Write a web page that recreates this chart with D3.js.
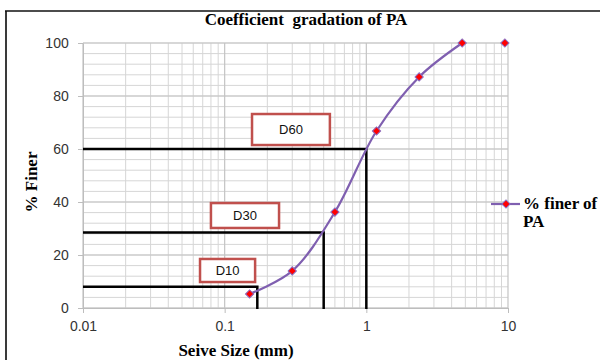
<!DOCTYPE html>
<html>
<head>
<meta charset="utf-8">
<script src="https://cdn.jsdelivr.net/npm/d3@7"></script>
<style>
  body { margin: 0; background: #fff; }
  svg { display: block; }
</style>
</head>
<body>
<div id="chart"></div>
<script>
// sieve data
const sieveSizes = [0.15, 0.3, 0.6, 1.18, 2.36, 4.75, 9.5];
const pctFiner = [5.3, 14, 36.2, 66.8, 87.2, 100, 100];

// D10 / D30 / D60 guide lines
const dLabels = ["D10", "D30", "D60"];
const dPercent = [8, 28.5, 60];
const dSizes = [0.17, 0.5, 1.0];
// label boxes in data units: left mm, right mm, top %, bottom %
const boxLeft = [0.067, 0.080, 0.156];
const boxRight = [0.164, 0.242, 0.553];
const boxTop = [18.5, 39.6, 73.2];
const boxBottom = [9.8, 30.2, 61.5];

const xTicks = [0.01, 0.1, 1, 10];
const yTicks = [0, 20, 40, 60, 80, 100];

const W = 600, H = 360;
const margin = {top: 43, right: 92, bottom: 52, left: 83},
      width = W - margin.left - margin.right,
      height = H - margin.top - margin.bottom;

const root = d3.select("#chart").append("svg")
  .attr("width", W).attr("height", H);

// outer frame (left + top edges visible)
root.append("line").attr("x1", 6).attr("x2", 6).attr("y1", 11).attr("y2", H)
  .attr("stroke", "#3a3a3a").attr("stroke-width", 2);
root.append("line").attr("x1", 5).attr("x2", W).attr("y1", 11).attr("y2", 11)
  .attr("stroke", "#111").attr("stroke-width", 1.5);

const svg = root.append("g")
  .attr("transform", `translate(${margin.left},${margin.top})`);

const x = d3.scaleLog().domain([0.01, 10]).range([0, width]);
const y = d3.scaleLinear().domain([0, 100]).range([height, 0]);

// minor grid
const minorX = [];
[0.01, 0.1, 1].forEach(d => { for (let k = 2; k <= 9; k++) minorX.push(d * k); });
svg.append("g").selectAll("line").data(minorX).enter().append("line")
  .attr("x1", d => x(d)).attr("x2", d => x(d)).attr("y1", 0).attr("y2", height)
  .attr("stroke", "#d6d6d6").attr("stroke-width", 1);
svg.append("g").selectAll("line").data(d3.range(0, 101, 4)).enter().append("line")
  .attr("x1", 0).attr("x2", width).attr("y1", d => y(d)).attr("y2", d => y(d))
  .attr("stroke", "#d6d6d6").attr("stroke-width", 1);

// major grid
svg.append("g").selectAll("line").data(xTicks).enter().append("line")
  .attr("x1", d => x(d)).attr("x2", d => x(d)).attr("y1", 0).attr("y2", height)
  .attr("stroke", "#c4c4c4").attr("stroke-width", 1.2);
svg.append("g").selectAll("line").data(yTicks).enter().append("line")
  .attr("x1", 0).attr("x2", width).attr("y1", d => y(d)).attr("y2", d => y(d))
  .attr("stroke", "#c4c4c4").attr("stroke-width", 1.2);

// axes
const xAxis = svg.append("g")
  .attr("transform", `translate(0,${height})`)
  .call(d3.axisBottom(x).tickValues(xTicks).tickFormat(d => String(d)).tickSize(5).tickSizeOuter(0));
const yAxis = svg.append("g")
  .call(d3.axisLeft(y).tickValues(yTicks).tickSize(5).tickSizeOuter(0));
[xAxis, yAxis].forEach(a => {
  a.select(".domain").attr("stroke", "#bdbdbd");
  a.selectAll(".tick line").attr("stroke", "#bdbdbd");
  a.selectAll("text").attr("fill", "#333")
    .style("font-family", "'Liberation Sans', Arial, sans-serif").style("font-size", "14px");
});
xAxis.selectAll("text").attr("dy", "1.1em");
yAxis.selectAll("text").attr("dx", "-0.45em");

// D lines
const dData = dLabels.map((l, i) => ({
  label: l, p: dPercent[i], s: dSizes[i],
  bl: boxLeft[i], br: boxRight[i], bt: boxTop[i], bb: boxBottom[i]
}));
const dPath = d3.line().x(d => d[0]).y(d => d[1]);
svg.append("g").selectAll("path").data(dData).enter().append("path")
  .attr("d", d => dPath([[0, y(d.p)], [x(d.s), y(d.p)], [x(d.s), height + 1]]))
  .attr("fill", "none").attr("stroke", "#000").attr("stroke-width", 2.5);

// D boxes
const bx = svg.append("g").selectAll("g").data(dData).enter().append("g");
bx.append("rect")
  .attr("x", d => x(d.bl))
  .attr("y", d => y(d.bt))
  .attr("width", d => x(d.br) - x(d.bl))
  .attr("height", d => y(d.bb) - y(d.bt))
  .attr("fill", "#fff").attr("stroke", "#c0504d").attr("stroke-width", 2.5);
bx.append("text")
  .attr("x", d => (x(d.bl) + x(d.br)) / 2)
  .attr("y", d => (y(d.bt) + y(d.bb)) / 2 + 4.5)
  .attr("text-anchor", "middle")
  .style("font-family", "'Liberation Sans', Arial, sans-serif").style("font-size", "13px")
  .attr("fill", "#111").text(d => d.label);

// gradation curve
const pts = sieveSizes.map((s, i) => ({s, p: pctFiner[i]}));
const curve = d3.line().x(d => x(d.s)).y(d => y(d.p)).curve(d3.curveCatmullRom.alpha(0.5));
svg.append("path").datum(pts.slice(0, 6))
  .attr("d", curve).attr("fill", "none")
  .attr("stroke", "#7f5fb0").attr("stroke-width", 2.2);

// square turned 45 degrees -> even diamond
const diamond = d3.symbol().type(d3.symbolSquare).size(34);
svg.append("g").selectAll("path").data(pts).enter().append("path")
  .attr("d", diamond)
  .attr("transform", d => `translate(${x(d.s)},${y(d.p)}) rotate(45)`)
  .attr("fill", "#ff0000").attr("stroke", "#8a6cc0").attr("stroke-width", 1);

// titles
const serif = "'Liberation Serif', 'Times New Roman', serif";
root.append("text").attr("x", 306).attr("y", 25).attr("text-anchor", "middle")
  .style("font-family", serif).style("font-weight", "bold").style("font-size", "17px")
  .style("white-space", "pre").attr("xml:space", "preserve")
  .text("Coefficient  gradation of PA");
root.append("text").attr("x", 236).attr("y", 356).attr("text-anchor", "middle")
  .style("font-family", serif).style("font-weight", "bold").style("font-size", "17px")
  .text("Seive Size (mm)");
root.append("text").attr("transform", "translate(37,182) rotate(-90)").attr("text-anchor", "middle")
  .style("font-family", serif).style("font-weight", "bold").style("font-size", "17px")
  .text("% Finer");

// legend
const lg = root.append("g").attr("transform", "translate(491,204)");
lg.append("line").attr("x1", 0).attr("x2", 29).attr("y1", 0).attr("y2", 0)
  .attr("stroke", "#7f5fb0").attr("stroke-width", 2.2);
lg.append("path").attr("d", diamond).attr("transform", "translate(15,0) rotate(45)")
  .attr("fill", "#ff0000").attr("stroke", "#8a6cc0");
lg.append("text").attr("x", 32).attr("y", 5)
  .style("font-family", serif).style("font-weight", "bold").style("font-size", "17px")
  .text("% finer of");
lg.append("text").attr("x", 32).attr("y", 23)
  .style("font-family", serif).style("font-weight", "bold").style("font-size", "17px")
  .text("PA");
</script>
</body>
</html>
